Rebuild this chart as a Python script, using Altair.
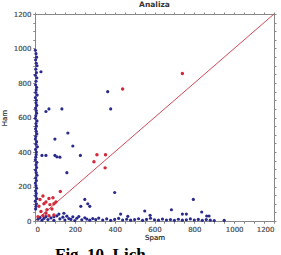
import altair as alt
import pandas as pd

# Blue points: vertical column near Spam = 0
col_x = [2,5,8,3,6,10,4,7,2,9,5,3,8,6,4,11,2,7,5,9,3,6,8,4,2,10,5,7,3,6,
         9,4,2,8,5,12,3,7,6,4,2,9,5,8,3,6,10,4,7,2,5,8,3,6,4,9,2,7,5,3]
col_y = [990,970,950,935,915,900,880,860,845,830,810,790,775,760,745,730,715,700,685,670,
         655,640,625,610,595,580,565,550,535,520,505,490,475,460,445,430,415,400,385,370,
         355,340,325,310,295,280,265,250,235,220,205,190,175,160,145,130,115,100,85,70]

# Blue points: horizontal row near Ham = 0
row_x = [15,25,35,45,55,65,80,95,110,125,140,150,160,170,180,190,200,210,220,235,
         250,260,275,290,305,320,340,360,380,400,420,440,460,480,500,520,540,560,580,600,
         620,640,660,680,700,720,740,760,780,800,820,840,860,880,900,950]
row_y = [10,20,5,15,25,8,18,4,30,12,22,6,28,14,9,24,3,16,26,7,
         19,11,5,14,8,17,6,12,4,9,15,6,10,5,8,13,4,9,16,7,
         5,11,6,8,4,10,5,7,12,6,9,4,8,5,3,4]

# Blue scattered points
scat_x = [30,55,70,135,365,380,100,165,190,35,55,100,110,125,228,160,400,250,265,275,
          230,795,685,551,578,430,466,740,760,837,862,874,120,145,95]
scat_y = [865,635,650,650,750,650,475,510,435,380,380,380,372,370,380,280,165,125,100,85,
          85,125,65,58,33,40,27,40,40,52,29,29,40,45,25]

# Red points
red_x = [740,440,311,354,296,352,127,25,40,55,70,90,20,45,75,95,30,60,85,40,70,95,15,55,105]
red_y = [855,765,384,384,343,308,171,125,145,110,130,135,85,100,95,100,55,65,70,30,30,35,25,45,110]

diag = [0, 1200]
ticks = list(range(0, 1201, 50))
caption = "Fig. 10. Lich ..."

blue = pd.DataFrame({"Spam": col_x + row_x + scat_x, "Ham": col_y + row_y + scat_y})
red = pd.DataFrame({"Spam": red_x, "Ham": red_y})
line_df = pd.DataFrame({"Spam": diag, "Ham": diag})

sc = alt.Scale(domain=[0, 1200], nice=False, zero=False)
lab = "datum.value % 200 == 0 ? format(datum.value, 'd') : ''"

xb = alt.X("Spam:Q", scale=sc, axis=alt.Axis(values=ticks, labelExpr=lab, title="Spam"))
yl = alt.Y("Ham:Q", scale=sc, axis=alt.Axis(values=ticks, labelExpr=lab, title="Ham", titlePadding=6))

line = alt.Chart(line_df).mark_line(color="#cc3344", strokeWidth=0.9).encode(
    x=alt.X("Spam:Q", scale=sc, axis=alt.Axis(orient="top", values=ticks, labels=False, title=None)),
    y=alt.Y("Ham:Q", scale=sc, axis=alt.Axis(orient="right", values=ticks, labels=False, title=None)),
)

pts_blue = alt.Chart(blue).mark_circle(color="#2a2a8c", size=10, opacity=1).encode(x=xb, y=yl)
pts_red = alt.Chart(red).mark_circle(color="#d02a3a", size=12, opacity=1).encode(x=xb, y=yl)

cap = alt.Chart(pd.DataFrame({"t": [caption]})).mark_text(
    align="left", baseline="top", font="Liberation Serif", fontSize=17, fontWeight="bold",
    color="#000000",
).encode(x=alt.value(20), y=alt.value(233), text="t:N")

chart = alt.layer(line, pts_blue, pts_red, cap).resolve_axis(
    x="independent", y="independent"
).properties(
    width=239, height=207,
    title=alt.TitleParams("Analiza", fontSize=7.5, fontWeight="bold", color="#333333", offset=2, font="DejaVu Sans"),
    autosize=alt.AutoSizeParams(type="none"),
    padding={"left": 35, "top": 14, "right": 7, "bottom": 34},
).configure_view(stroke="#888888", strokeWidth=1).configure_axis(
    grid=False, domainColor="#888888", tickColor="#888888", tickSize=2,
    labelFontSize=7, labelColor="#666666", labelFont="DejaVu Sans", labelPadding=2,
    titleFontSize=7, titleColor="#444444", titleFont="DejaVu Sans", titleFontWeight="normal",
).configure_axisX(titlePadding=1)

chart.save("out.html", embed_options={"renderer": "svg", "actions": False})
